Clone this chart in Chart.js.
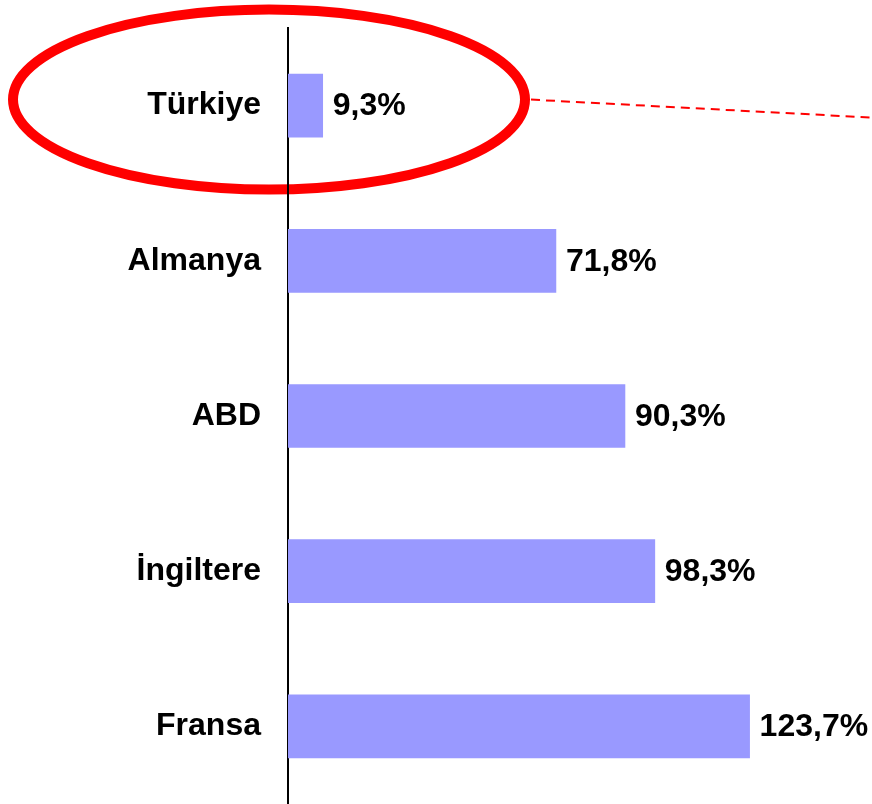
<!DOCTYPE html>
<html>
<head>
<meta charset="utf-8">
<script src="https://cdn.jsdelivr.net/npm/chart.js@4.4.1/dist/chart.umd.min.js"></script>
<style>
html,body{margin:0;padding:0;background:#fff;}
#wrap{width:872px;height:804px;position:relative;}
</style>
</head>
<body>
<div id="wrap"><canvas id="c" width="872" height="804"></canvas></div>
<script>
const categories = ["Türkiye", "Almanya", "ABD", "İngiltere", "Fransa"];
const values = [9.3, 71.8, 90.3, 98.3, 123.7];
const valueLabels = ["9,3%", "71,8%", "90,3%", "98,3%", "123,7%"];
const highlightIndex = 0;

const FONT = "'Liberation Sans', Arial, sans-serif";

const highlightPlugin = {
  id: 'highlight',
  beforeDraw(chart) {
    const ctx = chart.ctx;
    const y = chart.scales.y;
    const cy = y.getPixelForValue(highlightIndex) - 6;
    ctx.save();
    ctx.strokeStyle = '#FF0000';
    ctx.lineWidth = 10;
    ctx.beginPath();
    ctx.ellipse(269, cy, 256, 90, 0, 0, Math.PI * 2);
    ctx.stroke();
    ctx.lineWidth = 2;
    ctx.setLineDash([9, 6]);
    ctx.beginPath();
    ctx.moveTo(531, cy);
    ctx.lineTo(872, cy + 18);
    ctx.stroke();
    ctx.restore();
  }
};

const valueLabelPlugin = {
  id: 'valueLabels',
  afterDatasetsDraw(chart) {
    const ctx = chart.ctx;
    const meta = chart.getDatasetMeta(0);
    ctx.save();
    ctx.font = "bold 32px " + FONT;
    ctx.fillStyle = '#000';
    ctx.textAlign = 'left';
    ctx.textBaseline = 'middle';
    meta.data.forEach((bar, i) => {
      ctx.fillText(valueLabels[i], bar.x + 10, bar.y + 1);
    });
    ctx.restore();
  }
};

new Chart(document.getElementById('c'), {
  type: 'bar',
  data: {
    labels: categories,
    datasets: [{
      data: values,
      backgroundColor: '#9999FF',
      borderWidth: 0,
      barThickness: 63
    }]
  },
  options: {
    indexAxis: 'y',
    responsive: false,
    animation: false,
    devicePixelRatio: 1,
    layout: { padding: { top: 28, bottom: 0, left: 0, right: 0 } },
    plugins: { legend: { display: false }, tooltip: { enabled: false } },
    scales: {
      x: {
        display: false,
        min: 0,
        max: 156.5
      },
      y: {
        afterFit(scale) { scale.width = 288; scale.paddingTop = 0; scale.paddingBottom = 0; },
        grid: { display: false, drawTicks: false },
        border: { display: true, color: '#000', width: 2 },
        ticks: {
          color: '#000',
          padding: 27,
          font: { family: FONT, size: 32, weight: 'bold', lineHeight: 0.05 }
        }
      }
    }
  },
  plugins: [highlightPlugin, valueLabelPlugin]
});
</script>
</body>
</html>
